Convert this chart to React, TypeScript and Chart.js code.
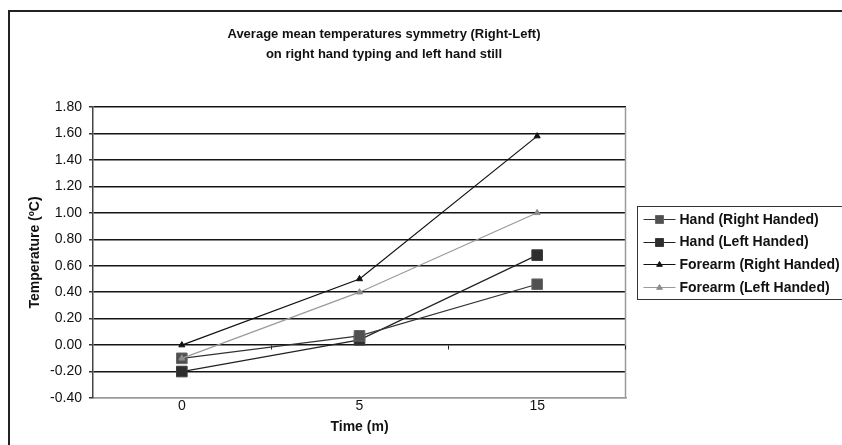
import React, { useEffect, useRef } from 'react';
import { Chart, registerables } from 'chart.js';

Chart.register(...registerables);

const categories = ['0', '5', '15'];
const handRight = [-0.1, 0.07, 0.46];
const handLeft = [-0.2, 0.04, 0.68];
const forearmRight = [0.0, 0.5, 1.58];
const forearmLeft = [-0.1, 0.4, 1.0];
const seriesLabels = [
  'Hand (Right Handed)',
  'Hand (Left Handed)',
  'Forearm (Right Handed)',
  'Forearm (Left Handed)',
];
const titleLines = [
  'Average mean temperatures symmetry (Right-Left)',
  'on right hand typing and left hand still',
];
const yTitle = 'Temperature (ºC)';
const xTitle = 'Time (m)';
const yMin = -0.4;
const yMax = 1.8;
const yStep = 0.2;

const FONT = "'Liberation Sans', Arial, Helvetica, sans-serif";

function drawMarker(ctx: CanvasRenderingContext2D, style: string, x: number, y: number, size: number, fill: string, stroke: string) {
  ctx.save();
  ctx.fillStyle = fill;
  ctx.strokeStyle = stroke;
  ctx.lineWidth = 1;
  ctx.beginPath();
  if (style === 'rect') {
    ctx.rect(x - size / 2, y - size / 2, size, size);
  } else {
    const r = size / 2;
    ctx.moveTo(x, y - r);
    ctx.lineTo(x + r * 0.95, y + r * 0.6);
    ctx.lineTo(x - r * 0.95, y + r * 0.6);
    ctx.closePath();
  }
  ctx.fill();
  ctx.stroke();
  ctx.restore();
}

const framePlugin = {
  id: 'frame',
  beforeDraw(chart: any) {
    const ctx = chart.ctx as CanvasRenderingContext2D;
    ctx.save();
    ctx.fillStyle = '#ffffff';
    ctx.fillRect(0, 0, chart.width, chart.height);
    ctx.strokeStyle = '#222222';
    ctx.lineWidth = 2;
    ctx.strokeRect(9, 11, chart.width + 20, chart.height + 20);
    ctx.restore();
  },
  beforeDatasetsDraw(chart: any) {
    const ctx = chart.ctx as CanvasRenderingContext2D;
    const { chartArea } = chart;
    const xs = chart.scales.x;
    const ys = chart.scales.y;
    ctx.save();
    ctx.strokeStyle = '#9a9a9a';
    ctx.lineWidth = 1.5;
    ctx.beginPath();
    const rx = Math.round(chartArea.right) - 0.5;
    ctx.moveTo(rx, chartArea.top);
    ctx.lineTo(rx, chartArea.bottom);
    ctx.stroke();
    const y0 = Math.round(ys.getPixelForValue(0)) + 0.5;
    ctx.strokeStyle = '#222222';
    ctx.lineWidth = 1;
    ctx.beginPath();
    const n = categories.length;
    const bounds: number[] = [];
    for (let i = 0; i < n - 1; i++) {
      bounds.push((xs.getPixelForValue(i) + xs.getPixelForValue(i + 1)) / 2);
    }
    bounds.push(chartArea.right - 1);
    bounds.forEach((bx) => {
      const px = Math.round(bx) + 0.5;
      ctx.moveTo(px, y0);
      ctx.lineTo(px, y0 + 4);
    });
    ctx.stroke();
    ctx.restore();
  },
};

const legendPlugin = {
  id: 'customLegend',
  afterDraw(chart: any) {
    const ctx = chart.ctx as CanvasRenderingContext2D;
    const { chartArea } = chart;
    const bx = Math.round(chartArea.right) + 11.5;
    const bh = 93;
    const by = Math.round((chartArea.top + chartArea.bottom) / 2 - bh / 2) + 0.5;
    ctx.save();
    ctx.fillStyle = '#ffffff';
    ctx.fillRect(bx, by, 300, bh);
    ctx.strokeStyle = '#333333';
    ctx.lineWidth = 1;
    ctx.strokeRect(bx, by, 300, bh);
    const ds = chart.data.datasets;
    ds.forEach((d: any, i: number) => {
      const y = by + 12.5 + i * 22.6;
      ctx.strokeStyle = d.borderColor;
      ctx.lineWidth = 1;
      ctx.beginPath();
      ctx.moveTo(bx + 6, Math.round(y) + 0.5);
      ctx.lineTo(bx + 38, Math.round(y) + 0.5);
      ctx.stroke();
      const isRect = d.pointStyle === 'rect';
      drawMarker(ctx, d.pointStyle, bx + 22, Math.round(y) + 0.5, isRect ? 8 : 6, d.pointBackgroundColor, d.pointBorderColor);
      ctx.fillStyle = '#111111';
      ctx.font = `bold 14px ${FONT}`;
      ctx.textBaseline = 'middle';
      ctx.textAlign = 'left';
      ctx.fillText(d.label, bx + 42, y + 1);
    });
    ctx.restore();
  },
};

export default function App() {
  const ref = useRef<HTMLCanvasElement>(null);
  useEffect(() => {
    const canvas = ref.current!;
    const chart = new Chart(canvas, {
      type: 'line',
      data: {
        labels: categories,
        datasets: [
          {
            label: seriesLabels[0],
            data: handRight,
            borderColor: '#333333',
            backgroundColor: '#505050',
            pointBackgroundColor: '#505050',
            pointBorderColor: '#666666',
            pointStyle: 'rect',
            pointRadius: 7.5,
            pointBorderWidth: 1,
            borderWidth: 1.2,
            order: 1,
          },
          {
            label: seriesLabels[1],
            data: handLeft,
            borderColor: '#222222',
            backgroundColor: '#2e2e2e',
            pointBackgroundColor: '#2e2e2e',
            pointBorderColor: '#3a3a3a',
            pointStyle: 'rect',
            pointRadius: 7.5,
            pointBorderWidth: 1,
            borderWidth: 1.2,
            order: 1,
          },
          {
            label: seriesLabels[2],
            data: forearmRight,
            borderColor: '#111111',
            backgroundColor: '#111111',
            pointBackgroundColor: '#111111',
            pointBorderColor: '#111111',
            pointStyle: 'triangle',
            pointRadius: 3.5,
            pointBorderWidth: 1,
            borderWidth: 1.2,
            order: 0,
          },
          {
            label: seriesLabels[3],
            data: forearmLeft,
            borderColor: '#9a9a9a',
            backgroundColor: '#8c8c8c',
            pointBackgroundColor: '#8c8c8c',
            pointBorderColor: '#8c8c8c',
            pointStyle: 'triangle',
            pointRadius: 3.5,
            pointBorderWidth: 1,
            borderWidth: 1.2,
            order: 0,
          },
        ],
      },
      options: {
        responsive: false,
        animation: false,
        devicePixelRatio: 1,
        events: [],
        elements: { line: { tension: 0 } },
        layout: { padding: { left: 0, right: 74, top: 0, bottom: 0 } },
        plugins: {
          legend: { display: false },
          tooltip: { enabled: false },
          title: {
            display: true,
            text: titleLines,
            color: '#111111',
            font: { family: FONT, size: 13, weight: 'bold', lineHeight: 20 / 13 },
            padding: { top: 24, bottom: 43 },
          },
        },
        scales: {
          x: {
            type: 'category',
            offset: true,
            grid: { display: false, drawTicks: false },
            border: { display: true, color: '#9a9a9a', width: 1.5 },
            ticks: { color: '#111111', font: { family: FONT, size: 14 }, padding: 0, maxRotation: 0 },
            title: {
              display: true,
              text: xTitle,
              color: '#111111',
              font: { family: FONT, size: 14, weight: 'bold' },
              padding: { top: 0, bottom: 9.6 },
            },
            afterFit: (scale: any) => {
              scale.height = 47;
            },
          },
          y: {
            type: 'linear',
            position: 'left',
            min: yMin,
            max: yMax,
            grid: {
              color: (c: any) => (c.tick && Math.abs(c.tick.value - yMin) < 1e-6 ? '#9a9a9a' : '#151515'),
              tickColor: '#333333',
              lineWidth: 1.5,
              drawTicks: true,
              tickLength: 4,
            },
            border: { display: true, color: '#444444', width: 1.5 },
            ticks: {
              stepSize: yStep,
              color: '#111111',
              font: { family: FONT, size: 14 },
              padding: 7,
              callback: (v: any) => Number(v).toFixed(2),
            },
            title: {
              display: true,
              text: yTitle,
              color: '#111111',
              font: { family: FONT, size: 14, weight: 'bold' },
              padding: { top: 26.6, bottom: 0 },
            },
            afterFit: (scale: any) => {
              scale.width = 93;
            },
          },
          spacer: {
            type: 'linear',
            position: 'right',
            display: true,
            grid: { display: false, drawTicks: false },
            border: { display: false },
            ticks: { display: false },
            afterFit: (scale: any) => {
              scale.width = 142;
            },
          },
        },
      },
      plugins: [framePlugin, legendPlugin],
    } as any);
    return () => chart.destroy();
  }, []);
  return (
    <div style={{ position: 'absolute', left: 0, top: 0, width: 842, height: 445, background: '#fff' }}>
      <canvas ref={ref} width={842} height={445} style={{ display: 'block', width: 842, height: 445 }} />
    </div>
  );
}
